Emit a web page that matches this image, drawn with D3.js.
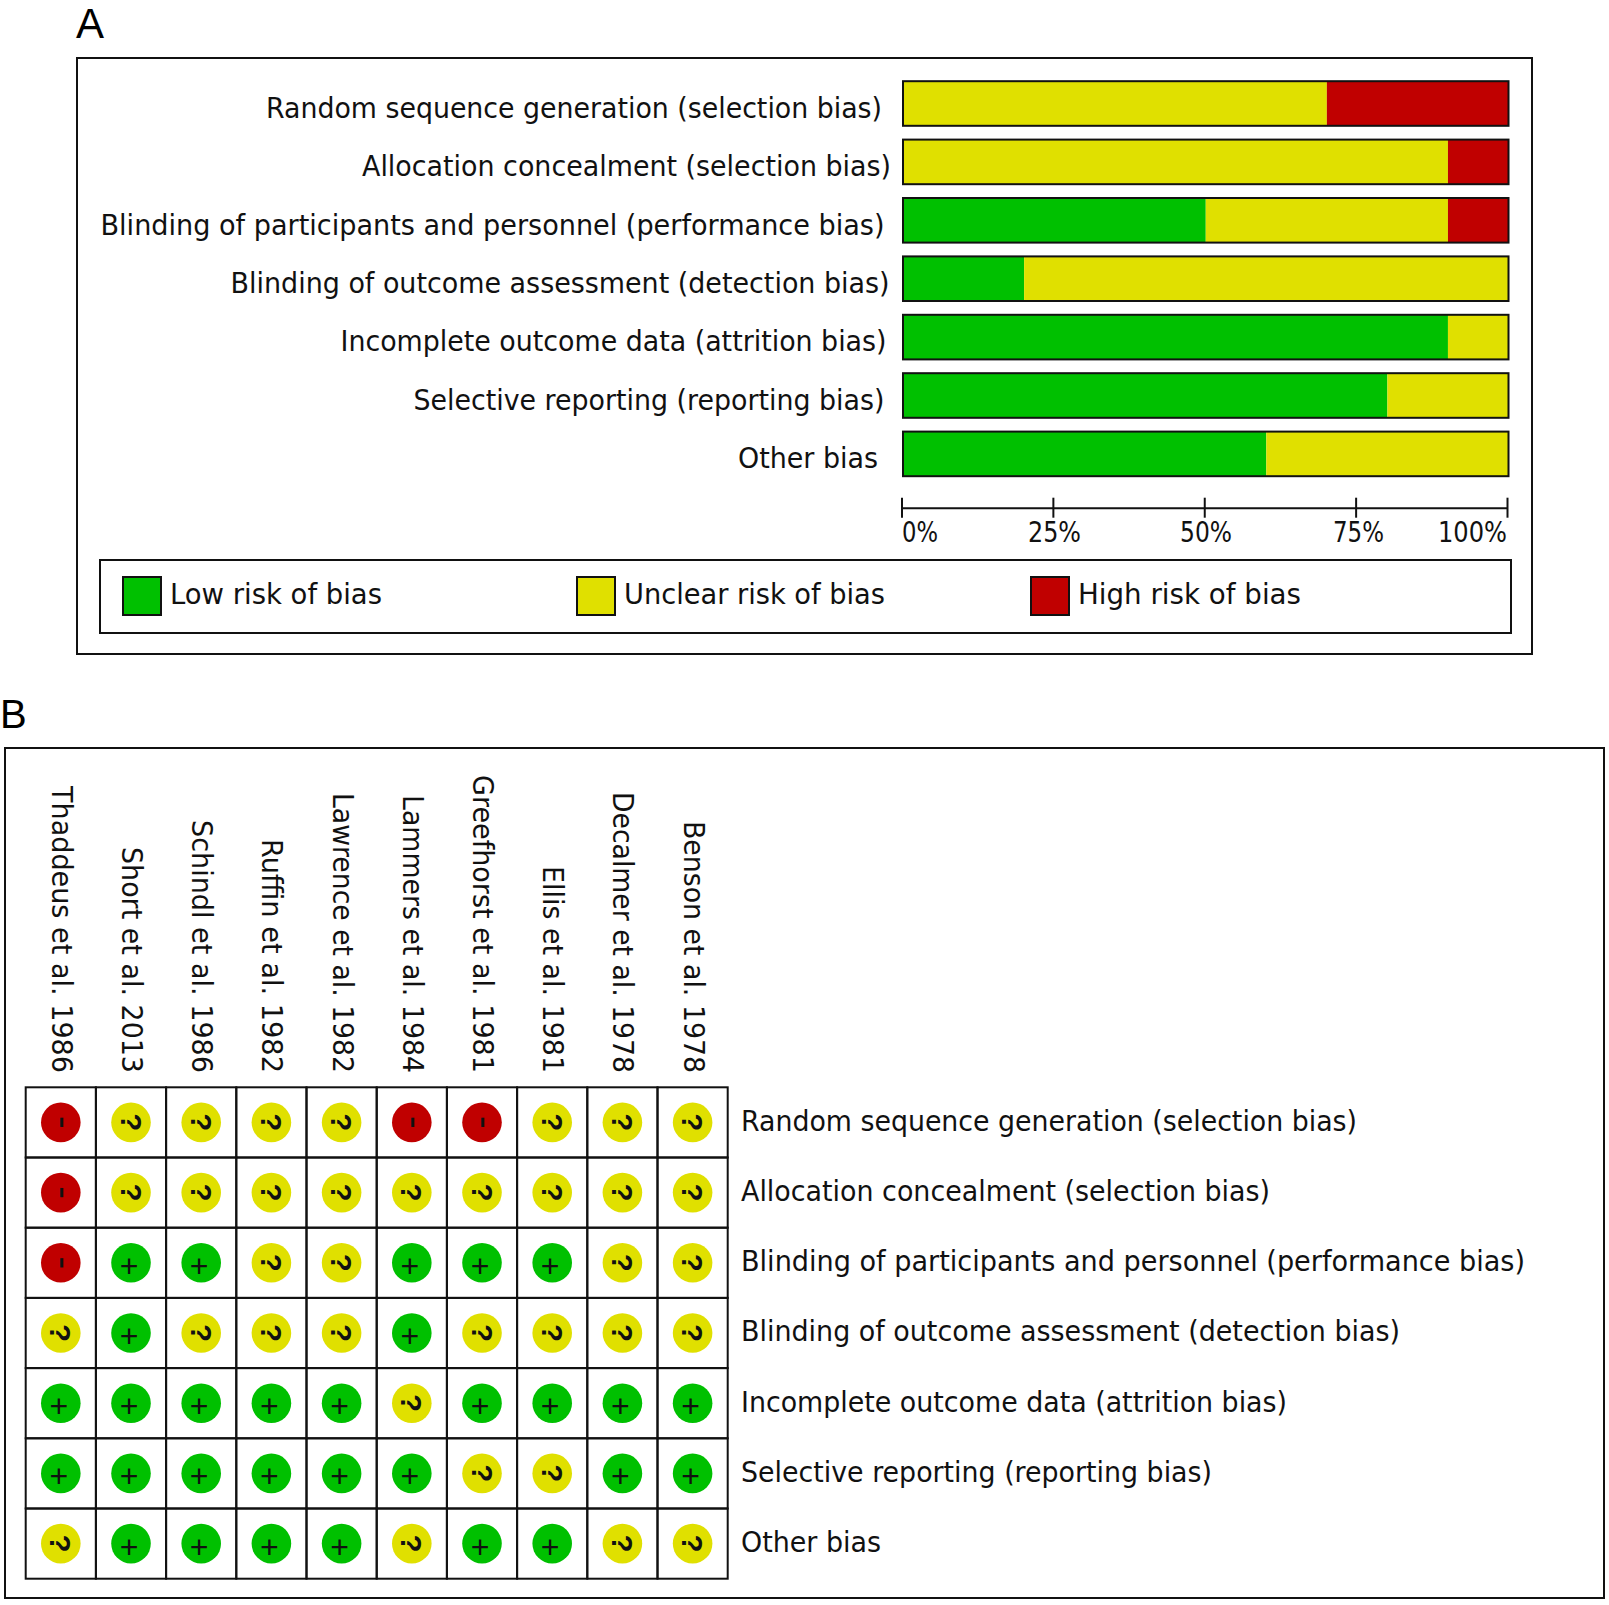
<!DOCTYPE html>
<html><head><meta charset="utf-8">
<style>html,body{margin:0;padding:0;background:#fff}svg{display:block}</style>
<script src="https://cdn.jsdelivr.net/npm/d3@7"></script>
</head><body><div id="c"></div>
<script>
const domains=["Random sequence generation (selection bias)","Allocation concealment (selection bias)","Blinding of participants and personnel (performance bias)","Blinding of outcome assessment (detection bias)","Incomplete outcome data (attrition bias)","Selective reporting (reporting bias)","Other bias"];
const lowPct=[0,0,50,20,90,80,60];
const unclearPct=[70,90,40,80,10,20,40];
const highPct=[30,10,10,0,0,0,0];
const pctTicks=[0,25,50,75,100];
const legendLabels=["Low risk of bias","Unclear risk of bias","High risk of bias"];
const studies=["Thaddeus et al. 1986","Short et al. 2013","Schindl et al. 1986","Ruffin et al. 1982","Lawrence et al. 1982","Lammers et al. 1984","Greefhorst et al. 1981","Ellis et al. 1981","Decalmer et al. 1978","Benson et al. 1978"];
const judgments=["-????--???","-?????????","-++??+++??","?+???+????","+++++?++++","++++++??++","?++++?++??"];
const colors={"+":"#00c000","?":"#e0e000","-":"#c00000"};
const font="'DejaVu Sans',sans-serif";
const fs=27.5;
// Rendered text widths, since the original typeface is not installed
const domainW=[616,529,784,659,546,471,140];
const tickW=[36,53,52,51,69];
const legendW=[212,261,223];
const studyW=[287,226,253,234,280,278,298,207,281,252];
const svg=d3.select("#c").append("svg").attr("width",1609).attr("height",1605);
const fit=(s,w)=>s.attr("textLength",w).attr("lengthAdjust","spacingAndGlyphs");
const T=(x,y,s,w,a)=>fit(svg.append("text").attr("x",x).attr("y",y).attr("font-family",font).attr("font-size",fs).attr("fill","#111").attr("text-anchor",a||"start").text(s),w);
const frame=(x0,y0,x1,y1,sw)=>svg.append("rect").attr("x",x0).attr("y",y0).attr("width",x1-x0).attr("height",y1-y0).attr("fill","none").attr("stroke","#111").attr("stroke-width",sw);
svg.append("text").attr("x",76).attr("y",38).attr("font-family","'Liberation Sans'").attr("font-size",42).text("A");
svg.append("text").attr("x",0).attr("y",728).attr("font-family","'Liberation Sans'").attr("font-size",40).text("B");
frame(77,58,1532,654,2);
frame(100,560,1511,633,2);
const x=d3.scaleLinear().domain([0,100]).range([903,1508.5]);
const labelRight=[882,891,884.5,889.6,886.5,884.4,878];
domains.forEach((d,i)=>{
  const yy=81.2+58.4*i,h=44.6;
  let acc=0;
  [[lowPct,"+"],[unclearPct,"?"],[highPct,"-"]].forEach(([arr,key])=>{
    if(arr[i]>0){svg.append("rect").attr("x",x(acc)).attr("y",yy).attr("width",x(acc+arr[i])-x(acc)).attr("height",h).attr("fill",colors[key]);acc+=arr[i];}
  });
  frame(x(0),yy,x(100),yy+h,2);
  T(labelRight[i],80.7+58.4*i+37,d,domainW[i],"end");
});
const ax=svg.append("g").attr("transform","translate(0,507.7)").call(d3.axisBottom(x.copy().range([901.5,1507])).tickValues(pctTicks).tickFormat(()=>"").tickSize(10).tickSizeOuter(0));
ax.selectAll(".tick line").attr("y1",-10).attr("y2",10).attr("stroke","#111").attr("stroke-width",2);
ax.select(".domain").attr("stroke","#111").attr("stroke-width",2);
const tickEnds=[938,1081,1232,1384,1507];
pctTicks.forEach((t,i)=>T(tickEnds[i],541.5,t+"%",tickW[i],"end"));
const swX=[123,577,1031];const legX=[170,624,1078];
legendLabels.forEach((l,i)=>{
  svg.append("rect").attr("x",swX[i]).attr("y",577).attr("width",38).attr("height",38).attr("fill",colors["+?-"[i]]).attr("stroke","#111").attr("stroke-width",2);
  T(legX[i],604,l,legendW[i]);
});
frame(5,748,1604,1598,2);
const gx=d3.scaleBand().domain(studies).range([25.7,727.7]);
const gy=d3.scaleBand().domain(domains).range([1087.3,1578.7]);
studies.forEach((s,i)=>{
  fit(svg.append("text").attr("transform",`translate(${gx(s)+gx.bandwidth()/2-9},1073) rotate(90)`).attr("font-family",font).attr("font-size",fs).attr("fill","#111").attr("text-anchor","end").text(s),studyW[i]);
});
domains.forEach((d,r)=>{
  T(741,gy(d)+gy.bandwidth()/2+8.3,d,domainW[r]);
  studies.forEach((s,c)=>{
    const v=judgments[r][c];
    const cx=gx(s)+gx.bandwidth()/2,cy=gy(d)+gy.bandwidth()/2;
    svg.append("rect").attr("x",gx(s)).attr("y",gy(d)).attr("width",gx.bandwidth()).attr("height",gy.bandwidth()).attr("fill","none").attr("stroke","#111").attr("stroke-width",2);
    svg.append("circle").attr("cx",cx).attr("cy",cy).attr("r",19.8).attr("fill",colors[v]);
    if(v==="+"){
      svg.append("text").attr("x",cx-2).attr("y",cy+14).attr("text-anchor","middle").attr("font-family","'Liberation Sans'").attr("font-size",32).attr("fill","#111").text("+");
    } else if(v==="?"){
      svg.append("text").attr("transform",`translate(${cx},${cy}) rotate(90)`).attr("y",10.5).attr("text-anchor","middle").attr("font-family","'Liberation Sans'").attr("font-weight","bold").attr("font-size",29).attr("fill","#111").text("?");
    } else {
      svg.append("text").attr("transform",`translate(${cx},${cy}) rotate(90)`).attr("y",10).attr("text-anchor","middle").attr("font-family","'Liberation Sans'").attr("font-size",38).attr("fill","#111").text("-");
    }
  });
});
</script></body></html>
